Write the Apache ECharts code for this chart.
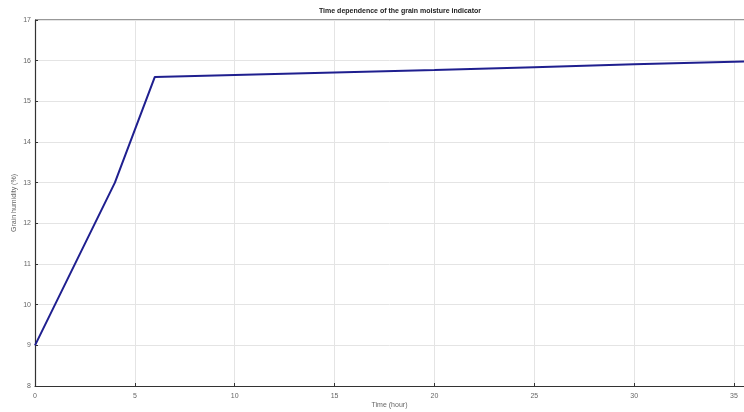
<!DOCTYPE html>
<html><head><meta charset="utf-8">
<script src="https://cdn.jsdelivr.net/npm/echarts@6/dist/echarts.min.js"></script>
<style>html,body{margin:0;padding:0;background:#fff}#c{width:744px;height:412px}</style>
</head><body><div id="c"></div>
<script>
const timeHours = [0, 4, 6, 10, 15, 20, 25, 30, 35.5];
const moisture = [9.0, 13.0, 15.6, 15.65, 15.71, 15.77, 15.84, 15.91, 15.98];
const xTicks = [0, 5, 10, 15, 20, 25, 30, 35];
const yTicks = [8, 9, 10, 11, 12, 13, 14, 15, 16, 17];
const titleText = 'Time dependence of the grain moisture indicator';
const xName = 'Time (hour)';
const yName = 'Grain humidity (%)';

const chart = echarts.init(document.getElementById('c'));
chart.setOption({
  animation: false,
  title: {text: titleText, left: 395, top: 3, textAlign: 'center',
    textStyle: {fontSize: 7, fontWeight: 'bold', color: '#222', fontFamily: 'Liberation Sans'}},
  grid: {left: 35, right: 0, top: 20, bottom: 26, show: false, containLabel: false, outerBoundsMode: 'none'},
  xAxis: {type: 'value', min: 0, max: 35.5, interval: 5,
    name: xName, nameLocation: 'middle', nameGap: 16, nameMoveOverlap: false,
    nameTextStyle: {fontSize: 7, color: '#666', fontFamily: 'Liberation Sans'},
    axisLine: {lineStyle: {color: '#333', width: 1.2}},
    axisTick: {inside: true, length: 3, lineStyle: {color: '#333'}},
    axisLabel: {fontSize: 7, color: '#666', margin: 7, showMaxLabel: false,
      formatter: v => xTicks.includes(v) ? String(v) : ''},
    splitLine: {show: true, lineStyle: {color: '#e4e4e4', width: 1}}},
  yAxis: {type: 'value', min: 8, max: 17, interval: 1,
    name: yName, nameLocation: 'middle', nameGap: 17, nameRotate: 90, nameMoveOverlap: false,
    nameTextStyle: {fontSize: 7, color: '#666', fontFamily: 'Liberation Sans'},
    axisLine: {show: true, lineStyle: {color: '#333', width: 1.2}},
    axisTick: {show: true, inside: true, length: 3, lineStyle: {color: '#333'}},
    axisLabel: {fontSize: 7, color: '#666', margin: 4,
      formatter: v => yTicks.includes(v) ? String(v) : ''},
    splitLine: {show: true, lineStyle: {color: '#e4e4e4', width: 1}}},
  series: [{type: 'line', data: timeHours.map((t, i) => [t, moisture[i]]),
    showSymbol: false, lineStyle: {color: '#1f1f8f', width: 2}}],
  graphic: [{type: 'line', shape: {x1: 35, y1: 20, x2: 744, y2: 20},
    style: {stroke: '#333', lineWidth: 1.2}}]
});
</script></body></html>
